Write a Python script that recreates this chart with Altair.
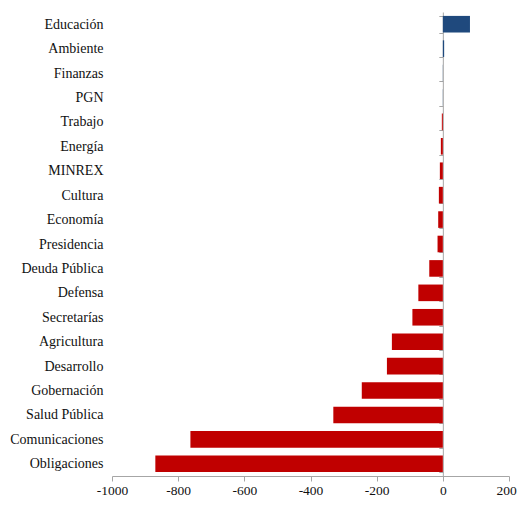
import altair as alt
import pandas as pd

categories = ["Educación", "Ambiente", "Finanzas", "PGN", "Trabajo", "Energía", "MINREX",
              "Cultura", "Economía", "Presidencia", "Deuda Pública", "Defensa", "Secretarías",
              "Agricultura", "Desarrollo", "Gobernación", "Salud Pública", "Comunicaciones",
              "Obligaciones"]
values = [82, 4, 0.5, 0.5, -3, -6, -9, -12, -14, -16, -41, -74, -92, -154, -169, -245, -331, -763, -869]
x_ticks = [-1000, -800, -600, -400, -200, 0, 200]

df = pd.DataFrame({"cat": categories, "val": values})
df["sign"] = ["pos" if v > 0 else "neg" for v in values]

font = "Liberation Serif"
W, H = 397, 464
zero_px = W * 1000 / 1200

chart = alt.Chart(df).mark_bar().encode(
    y=alt.Y("cat:N", sort=categories, title=None,
            scale=alt.Scale(paddingInner=0.32, paddingOuter=0.16),
            axis=alt.Axis(offset=-zero_px, labelPadding=zero_px + 5, tickSize=4, tickBand="extent",
                          domainColor="#a6a6a6", tickColor="#a6a6a6",
                          labelFont=font, labelFontSize=14, labelColor="#111111")),
    x=alt.X("val:Q", title=None,
            scale=alt.Scale(domain=[-1000, 200], nice=False),
            axis=alt.Axis(values=x_ticks, grid=False, labelExpr="datum.value + ''",
                          labelFlush=False, labelOverlap=False,
                          labelOffset={"condition": {"test": "datum.value == 200", "value": -3}, "value": 0},
                          tickSize=5, domainColor="#a6a6a6", tickColor="#a6a6a6",
                          labelFont=font, labelFontSize=13.5, labelColor="#111111",
                          labelPadding=2)),
    color=alt.Color("sign:N", scale=alt.Scale(domain=["pos", "neg"], range=["#1F497D", "#C00000"]),
                    legend=None),
).properties(width=W, height=H, autosize=alt.AutoSizeParams(type="none"),
             padding={"left": 104, "top": 4, "right": 8, "bottom": 21}
).configure_view(stroke=None)

chart.save("out.html", embed_options={"renderer": "svg", "actions": False})
